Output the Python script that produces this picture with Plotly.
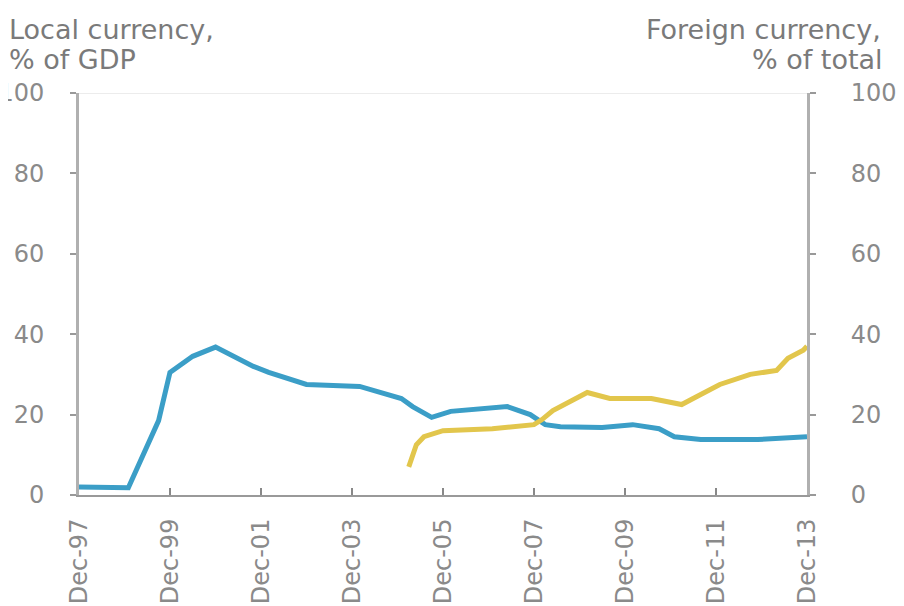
import plotly.graph_objects as go

# Local currency, % of GDP (left axis)
local_dates = ["1997-12-01", "1998-06-01", "1999-01-01", "1999-09-01", "1999-12-01",
               "2000-06-01", "2000-12-01", "2001-10-01", "2002-02-01", "2002-12-01",
               "2004-02-01", "2005-01-01", "2005-04-01", "2005-09-01", "2006-02-01",
               "2007-05-01", "2007-11-01", "2008-03-01", "2008-07-01", "2009-06-01",
               "2010-02-01", "2010-09-01", "2011-01-01", "2011-08-01", "2012-11-01",
               "2013-12-01"]
local_values = [2, 1.8, 1.8, 18.5, 30.5, 34.5, 36.8, 32, 30.5, 27.5,
                27, 24, 22, 19.3, 20.8, 22, 20, 17.5, 17, 16.8,
                17.5, 16.5, 14.5, 13.8, 13.8, 14.5]

# Foreign currency, % of total (right axis)
foreign_dates = ["2005-03-01", "2005-05-01", "2005-07-01", "2005-12-01", "2007-01-01",
                 "2007-12-01", "2008-02-01", "2008-05-01", "2009-02-01", "2009-08-01",
                 "2010-07-01", "2011-03-01", "2011-08-01", "2012-01-01", "2012-09-01",
                 "2013-04-01", "2013-07-01", "2013-11-01", "2013-12-01"]
foreign_values = [7, 12.5, 14.5, 16, 16.5, 17.5, 18.7, 21, 25.5, 24,
                  24, 22.5, 25, 27.5, 30, 31, 34, 36, 37]

tick_dates = ["1997-12-01", "1999-12-01", "2001-12-01", "2003-12-01", "2005-12-01",
              "2007-12-01", "2009-12-01", "2011-12-01", "2013-12-01"]
tick_labels = ["Dec-97", "Dec-99", "Dec-01", "Dec-03", "Dec-05",
               "Dec-07", "Dec-09", "Dec-11", "Dec-13"]
y_ticks = [0, 20, 40, 60, 80, 100]

FONT = "DejaVu Sans"
GRAY = "#8a8a8a"
TITLE_GRAY = "#7a7a7a"

fig = go.Figure()
fig.add_trace(go.Scatter(x=local_dates, y=local_values, mode="lines",
                         line=dict(color="#3b9ec7", width=5), yaxis="y",
                         showlegend=False))
fig.add_trace(go.Scatter(x=foreign_dates, y=foreign_values, mode="lines",
                         line=dict(color="#e2c64c", width=5), yaxis="y2",
                         showlegend=False))

W, H = 896, 598
ML, MR, MT, MB = 71, 97, 85, 111
PW, PH = W - ML - MR, H - MT - MB  # plot area size in px

fig.update_layout(
    width=W, height=H,
    margin=dict(l=ML, r=MR, t=MT, b=MB, autoexpand=False),
    paper_bgcolor="white", plot_bgcolor="white",
    font=dict(family=FONT, color=GRAY),
    xaxis=dict(type="date", range=["1997-12-01", "2013-12-01"],
               tickvals=tick_dates, ticktext=tick_labels, tickangle=-90,
               ticks="inside", ticklen=7, tickwidth=2, tickcolor="#888",
               showline=True, linecolor="#999", linewidth=2,
               showgrid=False, zeroline=False,
               tickfont=dict(size=24, color=GRAY), ticklabelstandoff=12),
    yaxis=dict(range=[0, 100], tickvals=y_ticks, showgrid=False, zeroline=False,
               showline=True, linecolor="#b0b0b0", linewidth=3,
               ticks="outside", ticklen=6, tickcolor="#999", tickwidth=2,
               tickfont=dict(size=24, color=GRAY), ticklabelstandoff=21),
    yaxis2=dict(range=[0, 100], tickvals=y_ticks, overlaying="y", side="right",
                showgrid=False, zeroline=False,
                showline=True, linecolor="#b0b0b0", linewidth=3,
                ticks="outside", ticklen=6, tickcolor="#999", tickwidth=2,
                tickfont=dict(size=24, color=GRAY), ticklabelstandoff=30),
    shapes=[dict(type="line", xref="paper", yref="y", x0=0, x1=1, y0=100, y1=100,
                 line=dict(color="#ececec", width=2), layer="below")],
    annotations=[
        dict(text="Local currency,", xref="paper", yref="paper", x=-72/PW, y=1 + 64/PH,
             xanchor="left", yanchor="middle", showarrow=False,
             font=dict(size=27, color=TITLE_GRAY, family=FONT)),
        dict(text="% of GDP", xref="paper", yref="paper", x=-72/PW, y=1 + 34/PH,
             xanchor="left", yanchor="middle", showarrow=False,
             font=dict(size=27, color=TITLE_GRAY, family=FONT)),
        dict(text="Foreign currency,", xref="paper", yref="paper", x=1 + 76/PW, y=1 + 64/PH,
             xanchor="right", yanchor="middle", showarrow=False,
             font=dict(size=27, color=TITLE_GRAY, family=FONT)),
        dict(text="% of total", xref="paper", yref="paper", x=1 + 78/PW, y=1 + 34/PH,
             xanchor="right", yanchor="middle", showarrow=False,
             font=dict(size=27, color=TITLE_GRAY, family=FONT)),
    ],
)

fig.write_html("out.html")
